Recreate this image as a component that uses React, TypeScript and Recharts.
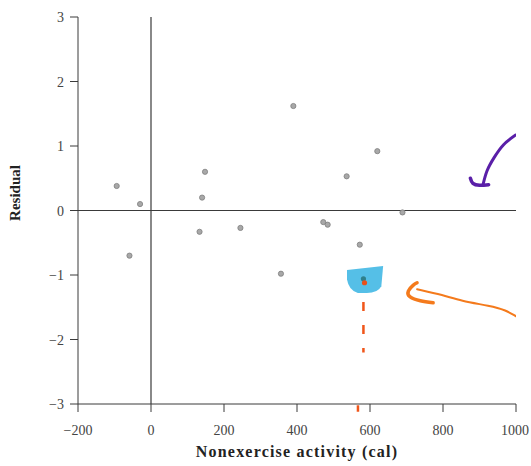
import { ComposedChart, Scatter, Line, XAxis, YAxis, ReferenceLine, ReferenceArea, Label } from 'recharts';

// residual plot data
const activity = [-94, -30, -59, 133, 140, 148, 245, 356, 390, 472, 484, 536, 572, 620, 689];
const residual = [0.38, 0.1, -0.7, -0.33, 0.2, 0.6, -0.27, -0.98, 1.62, -0.18, -0.22, 0.53, -0.53, 0.92, -0.03];
const points = activity.map((x, i) => ({ x, y: residual[i] }));

// the circled point
const markedPoint = [{ x: 582, y: -1.06 }];
const orangeDot = [{ x: 585, y: -1.12 }];

const xTicks = [-200, 0, 200, 400, 600, 800, 1000];
const yTicks = [-3, -2, -1, 0, 1, 2, 3];

// hand-drawn annotations, in data units
const purpleStroke = [
  { x: 999, y: 1.17 },
  { x: 966, y: 1.02 },
  { x: 940, y: 0.82 },
  { x: 921, y: 0.62 },
  { x: 910, y: 0.41 },
];
const purpleHook = [
  { x: 875, y: 0.5 },
  { x: 882, y: 0.42 },
  { x: 900, y: 0.39 },
  { x: 925, y: 0.4 },
];
const orangeHead = [
  { x: 773, y: -1.43 },
  { x: 738, y: -1.4 },
  { x: 710, y: -1.34 },
  { x: 705, y: -1.25 },
  { x: 718, y: -1.16 },
  { x: 729, y: -1.12 },
];
const orangeTail = [
  { x: 729, y: -1.22 },
  { x: 801, y: -1.31 },
  { x: 848, y: -1.4 },
  { x: 930, y: -1.48 },
  { x: 970, y: -1.54 },
  { x: 1000, y: -1.64 },
];

const fmt = (v: number) => (v < 0 ? `\u2212${Math.abs(v)}` : `${v}`);
const serif = '"Liberation Serif", "DejaVu Serif", serif';
const ink = '#3a3a3a';

const Blob = (props: any) => {
  const { x, y, width: w, height: h } = props;
  const d = `M ${x},${y + 0.15 * h} L ${x + w},${y} L ${x + 0.95 * w},${y + 0.75 * h} Q ${x + 0.85 * w},${y + h} ${x + 0.55 * w},${y + h} L ${x + 0.3 * w},${y + h} Q ${x + 0.05 * w},${y + 0.9 * h} ${x},${y + 0.5 * h} Z`;
  return <path d={d} fill="#43b8e4" fillOpacity={0.9} />;
};

const XTick = ({ x, y, payload }: any) => (
  <text x={x} y={y + 17} textAnchor="middle" style={{ fontFamily: serif, fontSize: 14 }} fill="#444">
    {fmt(payload.value)}
  </text>
);

const YTick = ({ x, y, payload }: any) => (
  <text x={x} y={y + 5} textAnchor="end" style={{ fontFamily: serif, fontSize: 14 }} fill="#444">
    {fmt(payload.value)}
  </text>
);

export default function App() {
  return (
    <div style={{ position: 'absolute', left: 0, top: 0, background: '#fff' }}>
      <ComposedChart width={531} height={466} margin={{ top: 17, right: 15, left: 18, bottom: 0 }}>
        <XAxis
          type="number"
          dataKey="x"
          domain={[-200, 1000]}
          ticks={xTicks}
          allowDataOverflow
          height={62}
          tickSize={8}
          tickMargin={6}
          stroke={ink}
          tick={XTick}
        >
          <Label
            content={() => (
              <text x={297} y={457} textAnchor="middle" style={{ fontFamily: serif, fontWeight: 'bold', fontSize: 16, letterSpacing: 1.2 }} fill="#222">
                Nonexercise activity (cal)
              </text>
            )}
          />
        </XAxis>
        <YAxis
          type="number"
          dataKey="y"
          domain={[-3, 3]}
          ticks={yTicks}
          allowDataOverflow
          width={60}
          tickSize={8}
          tickMargin={6}
          stroke={ink}
          tick={YTick}
        >
          <Label
            content={() => (
              <text x={20} y={193} transform="rotate(-90 20 193)" textAnchor="middle" style={{ fontFamily: serif, fontWeight: 'bold', fontSize: 15 }} fill="#222">
                Residual
              </text>
            )}
          />
        </YAxis>
        <ReferenceLine x={0} stroke={ink} strokeWidth={1.2} />
        <ReferenceLine y={0} stroke={ink} strokeWidth={1.2} />
        <ReferenceArea x1={537} x2={636} y1={-1.28} y2={-0.86} shape={Blob} />
        <ReferenceLine
          segment={[{ x: 582, y: -1.42 }, { x: 582, y: -2.2 }]}
          stroke="#f0561a"
          strokeWidth={2.5}
          strokeDasharray="9 14"
        />
        <ReferenceLine
          segment={[{ x: 567, y: -3.02 }, { x: 567, y: -3.12 }]}
          ifOverflow="visible"
          stroke="#f0561a"
          strokeWidth={2.5}
        />
        <Scatter data={points} dataKey="y" isAnimationActive={false}
          shape={(p: any) => <circle cx={p.cx} cy={p.cy} r={2.6} fill="#a8a8a8" stroke="#7f7f7f" strokeWidth={0.8} />} />
        <Scatter data={markedPoint} dataKey="y" isAnimationActive={false}
          shape={(p: any) => <circle cx={p.cx} cy={p.cy} r={2.6} fill="#2f7f8a" />} />
        <Scatter data={orangeDot} dataKey="y" isAnimationActive={false}
          shape={(p: any) => <circle cx={p.cx} cy={p.cy} r={2.6} fill="#e9501a" />} />
        <Line data={purpleStroke} dataKey="y" type="natural" stroke="#5a1fa8" strokeWidth={3} strokeLinecap="round" dot={false} activeDot={false} isAnimationActive={false} />
        <Line data={purpleHook} dataKey="y" type="natural" stroke="#5a1fa8" strokeWidth={3.5} strokeLinecap="round" dot={false} activeDot={false} isAnimationActive={false} />
        <Line data={orangeHead} dataKey="y" type="natural" stroke="#f47a1c" strokeWidth={3.5} strokeLinecap="round" dot={false} activeDot={false} isAnimationActive={false} />
        <Line data={orangeTail} dataKey="y" type="basis" stroke="#f47a1c" strokeWidth={2} strokeLinecap="round" dot={false} activeDot={false} isAnimationActive={false} />
      </ComposedChart>
    </div>
  );
}
